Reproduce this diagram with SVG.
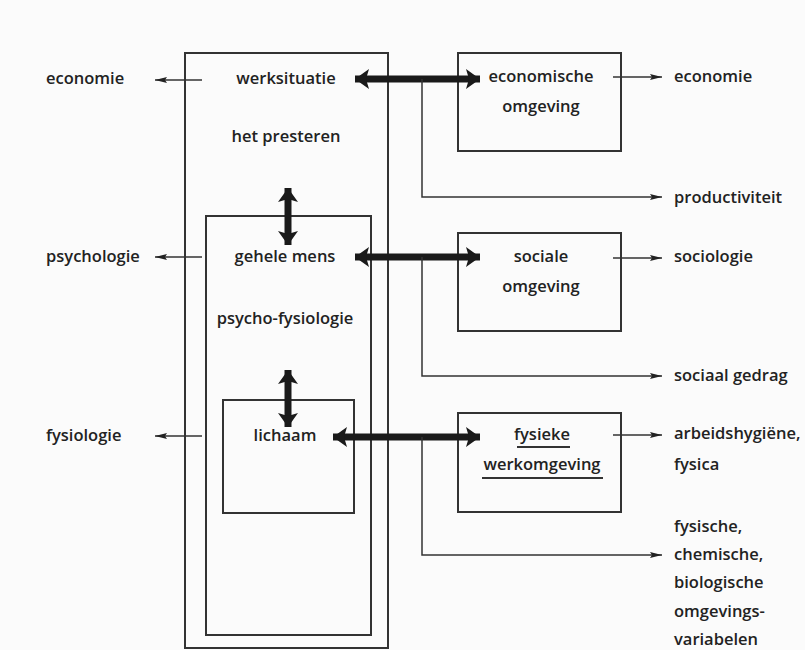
<svg xmlns="http://www.w3.org/2000/svg" width="805" height="650" viewBox="0 0 805 650">
<style>
.t{font-family:"Open Sans","Noto Sans","DejaVu Sans",sans-serif;font-weight:600;font-size:16.5px;fill:#222}
.m{text-anchor:middle}
.box{fill:none;stroke:#333;stroke-width:2}
.thin{fill:none;stroke:#333;stroke-width:1.5}
.thick{fill:none;stroke:#1a1a1a;stroke-width:7}
.ul{stroke:#333;stroke-width:2}
</style>
<defs>
<marker id="ah" viewBox="0 0 12 8" refX="12" refY="4" markerWidth="12" markerHeight="8" markerUnits="userSpaceOnUse" orient="auto-start-reverse">
<path d="M0,1 L12,4 L0,7 L2,4 Z" fill="#222"/>
</marker>
<marker id="big" viewBox="0 0 14 20" refX="14" refY="10" markerWidth="14" markerHeight="20" markerUnits="userSpaceOnUse" orient="auto-start-reverse">
<path d="M0,0 L14,10 L0,20 L3,10 Z" fill="#1a1a1a"/>
</marker>
</defs>
<rect x="0" y="0" width="805" height="650" fill="#fbfbfb"/>

<g id="werksituatie-box">
<rect class="box" x="185" y="53" width="203" height="595"/>
<text class="t m" x="286" y="84">werksituatie</text>
<text class="t m" x="286" y="142">het presteren</text>
</g>
<g id="gehele-mens-box">
<rect class="box" x="206" y="216" width="165" height="419"/>
<text class="t m" x="285" y="262">gehele mens</text>
<text class="t m" x="285" y="324">psycho-fysiologie</text>
</g>
<g id="lichaam-box">
<rect class="box" x="223" y="400" width="131" height="113"/>
<text class="t m" x="285" y="441">lichaam</text>
</g>
<g id="economische-omgeving">
<rect class="box" x="458" y="53" width="163" height="98"/>
<text class="t m" x="541" y="82">economische</text>
<text class="t m" x="541" y="112">omgeving</text>
</g>
<g id="sociale-omgeving">
<rect class="box" x="458" y="233" width="163" height="98"/>
<text class="t m" x="541" y="262">sociale</text>
<text class="t m" x="541" y="292">omgeving</text>
</g>
<g id="fysieke-werkomgeving">
<rect class="box" x="458" y="413" width="163" height="99"/>
<text class="t m" x="542" y="440">fysieke</text>
<line class="ul" x1="517" y1="447" x2="570" y2="447"/>
<text class="t m" x="542" y="470">werkomgeving</text>
<line class="ul" x1="482" y1="478" x2="603" y2="478"/>
</g>

<g id="labels">
<text class="t" x="46" y="84">economie</text>
<text class="t" x="46" y="262">psychologie</text>
<text class="t" x="46" y="441">fysiologie</text>
<text class="t" x="674" y="82">economie</text>
<text class="t" x="674" y="203">productiviteit</text>
<text class="t" x="674" y="262">sociologie</text>
<text class="t" x="674" y="381">sociaal gedrag</text>
<text class="t" x="674" y="439">arbeidshygiëne,</text>
<text class="t" x="674" y="470">fysica</text>
<text class="t" x="674" y="532">fysische,</text>
<text class="t" x="674" y="560">chemische,</text>
<text class="t" x="674" y="588">biologische</text>
<text class="t" x="674" y="617">omgevings-</text>
<text class="t" x="674" y="645">variabelen</text>
</g>

<g id="connectors">
<line class="thick" x1="355" y1="79" x2="480" y2="79" marker-start="url(#big)" marker-end="url(#big)"/>
<line class="thick" x1="355" y1="257" x2="480" y2="257" marker-start="url(#big)" marker-end="url(#big)"/>
<line class="thick" x1="333" y1="437" x2="480" y2="437" marker-start="url(#big)" marker-end="url(#big)"/>
<line class="thick" x1="288" y1="188" x2="288" y2="245" marker-start="url(#big)" marker-end="url(#big)"/>
<line class="thick" x1="288" y1="370" x2="288" y2="427" marker-start="url(#big)" marker-end="url(#big)"/>
<polyline class="thin" points="422,79 422,197 662,197" marker-end="url(#ah)"/>
<polyline class="thin" points="422,257 422,376 662,376" marker-end="url(#ah)"/>
<polyline class="thin" points="422,437 422,555 662,555" marker-end="url(#ah)"/>
<line class="thin" x1="202" y1="80" x2="155" y2="80" marker-end="url(#ah)"/>
<line class="thin" x1="202" y1="257" x2="155" y2="257" marker-end="url(#ah)"/>
<line class="thin" x1="202" y1="436" x2="155" y2="436" marker-end="url(#ah)"/>
<line class="thin" x1="613" y1="77" x2="662" y2="77" marker-end="url(#ah)"/>
<line class="thin" x1="613" y1="258" x2="662" y2="258" marker-end="url(#ah)"/>
<line class="thin" x1="613" y1="435" x2="662" y2="435" marker-end="url(#ah)"/>
</g>
</svg>
